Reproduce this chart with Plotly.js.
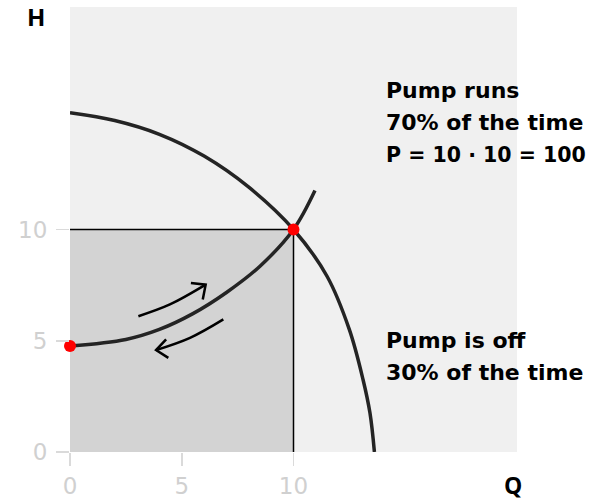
<!DOCTYPE html>
<html>
<head>
<meta charset="utf-8">
<script src="https://cdn.plot.ly/plotly-3.0.1.min.js"></script>
<style>html,body{margin:0;padding:0;background:#fff;}#chart{width:594px;height:500px;}</style>
</head>
<body>
<div id="chart"></div>
<script>
// Pump curve (Q, H)
const pumpQ = [0, 2, 4, 6, 8, 10, 11.5, 12.5, 13.11, 13.42, 13.62];
const pumpH = [15.25, 14.9, 14.28, 13.3, 11.9, 10, 7.9, 5.5, 3.26, 1.76, 0];
// System curve (Q, H)
const sysQ = [0, 2.5, 4, 5.5, 7, 8.5, 10, 10.96];
const sysH = [4.76, 5.06, 5.51, 6.22, 7.17, 8.35, 10, 11.75];
// Operating point and pump-off point
const opQ = [10];
const opH = [10];
const offQ = [0];
const offH = [4.76];
// Arrows (shaft and head)
const upArrowQ = [3.06, 4.47, 6.07];
const upArrowH = [6.10, 6.63, 7.52];
const upHeadQ = [5.41, 6.07, 5.94];
const upHeadH = [7.60, 7.52, 6.85];
const downArrowQ = [6.86, 5.37, 3.85];
const downArrowH = [5.96, 5.13, 4.58];
const downHeadQ = [4.30, 3.85, 4.40];
const downHeadH = [5.06, 4.58, 4.23];
// Ticks and texts
const tickVals = [0, 5, 10];
const tickText = ["0", "5", "10"];
const runLines = ["Pump runs", "70% of the time", "P = 10 \u00b7 10 = 100"];
const offLines = ["Pump is off", "30% of the time"];
const xLabel = "Q";
const yLabel = "H";

const curveStyle = {color: '#242424', width: 3.5, shape: 'spline', smoothing: 1};
const arrowStyle = {color: '#000000', width: 2.5, shape: 'spline'};

const traces = [
  {x: [0, opQ[0], opQ[0]], y: [opH[0], opH[0], 0], mode: 'lines', line: {color: '#000', width: 1.5}, hoverinfo: 'skip'},
  {x: pumpQ, y: pumpH, mode: 'lines', line: curveStyle, cliponaxis: false},
  {x: sysQ, y: sysH, mode: 'lines', line: curveStyle, cliponaxis: false},
  {x: upArrowQ, y: upArrowH, mode: 'lines', line: arrowStyle},
  {x: upHeadQ, y: upHeadH, mode: 'lines', line: {color: '#000', width: 2.5}},
  {x: downArrowQ, y: downArrowH, mode: 'lines', line: arrowStyle},
  {x: downHeadQ, y: downHeadH, mode: 'lines', line: {color: '#000', width: 2.5}},
  {x: opQ.concat(offQ), y: opH.concat(offH), mode: 'markers', marker: {color: '#ff0000', size: 12}, cliponaxis: false}
];

const pl = 70, pb = 452.5, pw = 447, ph = 445;
function px2paperX(px) { return (px - pl) / pw; }
function px2paperY(py) { return (pb - py) / ph; }

function lineFont(t) {
  // the formula line is set a little tighter so that it fits like the reference
  return {family: 'DejaVu Sans, sans-serif', size: t.indexOf('=') >= 0 ? 20.5 : 22, color: '#000'};
}
const annotations = [];
runLines.forEach((t, i) => {
  annotations.push({text: '<b>' + t + '</b>', xref: 'paper', yref: 'paper', x: px2paperX(384), y: px2paperY(91 + i * 32),
    xanchor: 'left', yanchor: 'middle', showarrow: false, font: lineFont(t)});
});
offLines.forEach((t, i) => {
  annotations.push({text: '<b>' + t + '</b>', xref: 'paper', yref: 'paper', x: px2paperX(384), y: px2paperY(341 + i * 32),
    xanchor: 'left', yanchor: 'middle', showarrow: false, font: lineFont(t)});
});
annotations.push({text: '<b>' + yLabel + '</b>', xref: 'paper', yref: 'paper', x: px2paperX(35.5), y: px2paperY(17),
  xanchor: 'center', yanchor: 'middle', showarrow: false, font: {family: 'Open Sans, sans-serif', size: 24, color: '#000'}});
annotations.push({text: '<b>' + xLabel + '</b>', xref: 'paper', yref: 'paper', x: px2paperX(512.5), y: px2paperY(485),
  xanchor: 'center', yanchor: 'middle', showarrow: false, font: {family: 'Open Sans, sans-serif', size: 23, color: '#000'}});

const axisBase = {
  range: [0, 20], tickvals: tickVals, ticktext: tickText, ticks: 'outside', ticklen: 13, tickwidth: 1.5,
  tickcolor: '#dadada', showgrid: false, zeroline: false, showline: false, fixedrange: true,
  tickfont: {family: 'DejaVu Sans, sans-serif', size: 23, color: '#d0d0d0'}
};

const layout = {
  width: 594, height: 500,
  margin: {l: 70, r: 77, t: 7, b: 47.5},
  paper_bgcolor: '#ffffff', plot_bgcolor: '#f0f0f0',
  showlegend: false,
  xaxis: Object.assign({}, axisBase, {ticklabelstandoff: 0}),
  yaxis: Object.assign({}, axisBase, {ticklabelstandoff: 4}),
  shapes: [{type: 'rect', xref: 'x', yref: 'y', x0: 0, y0: 0, x1: opQ[0], y1: opH[0], fillcolor: '#d3d3d3', line: {width: 0}, layer: 'below'}],
  annotations: annotations
};

Plotly.newPlot('chart', traces, layout, {displayModeBar: false, staticPlot: true});
</script>
</body>
</html>
